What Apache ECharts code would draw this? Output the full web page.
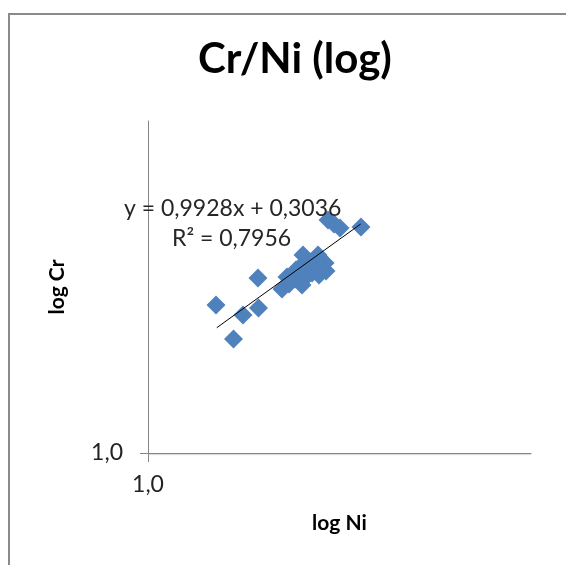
<!DOCTYPE html>
<html>
<head>
<meta charset="utf-8">
<script src="https://cdn.jsdelivr.net/npm/echarts@6/dist/echarts.min.js"></script>
<style>html,body{margin:0;padding:0;background:#fff}#c{width:566px;height:565px}</style>
</head>
<body>
<div id="c"></div>
<script>
// Ni values (x) and Cr values (y)
var niValues = [1.505, 1.672, 1.770, 1.937, 1.943, 2.238, 2.334, 2.306, 2.420, 2.524, 2.434, 2.539, 2.539, 2.649, 2.681, 2.779, 2.796, 2.899, 2.916, 2.570, 2.762, 2.951, 3.060, 3.172, 3.598];
var crValues = [5.07, 3.49, 4.54, 6.81, 4.90, 6.04, 6.38, 6.89, 6.74, 6.31, 7.44, 7.94, 8.77, 8.12, 7.20, 8.77, 7.04, 8.03, 7.36, 6.81, 7.86, 12.87, 12.31, 11.79, 11.92];
// trendline end points
var trendNi = [1.512, 3.592];
var trendCr = [3.95, 12.31];
var tickLabels = ['1,0'];
var equationText = 'y = 0,9928x + 0,3036';
var r2Text = 'R² = 0,7956';

var points = niValues.map(function (v, i) { return [v, crValues[i]]; });
var trend = trendNi.map(function (v, i) { return [v, trendCr[i]]; });

var chart = echarts.init(document.getElementById('c'), null, {renderer: 'canvas'});
var FONT = 'Lato';
chart.setOption({
  animation: false,
  backgroundColor: '#fff',
  title: {
    text: 'Cr/Ni (log)',
    left: 290,
    top: 33,
    textAlign: 'center',
    textStyle: {fontFamily: FONT, fontWeight: 'bold', fontSize: 42, color: '#000'}
  },
  grid: {left: 148, top: 121, width: 383, height: 332, containLabel: false},
  xAxis: {
    type: 'log', logBase: 10, min: 1, max: 10,
    name: 'log Ni', nameLocation: 'middle', nameGap: 60,
    nameTextStyle: {fontFamily: FONT, fontWeight: 'bold', fontSize: 21, color: '#000'},
    axisLine: {show: true, lineStyle: {color: '#868686', width: 1}},
    axisTick: {show: true, length: 9, inside: false, customValues: [1], lineStyle: {color: '#868686'}},
    axisLabel: {customValues: [1], margin: 20, fontFamily: FONT, fontSize: 23, color: '#222',
      formatter: function (v) { return tickLabels[0]; }},
    splitLine: {show: false}
  },
  yAxis: {
    type: 'log', logBase: 10, min: 1, max: 38.1,
    name: 'log Cr', nameLocation: 'middle', nameGap: 80, nameRotate: 90,
    nameTextStyle: {fontFamily: FONT, fontWeight: 'bold', fontSize: 21, color: '#000'},
    axisLine: {show: true, lineStyle: {color: '#868686', width: 1}},
    axisTick: {show: true, length: 8, customValues: [1], lineStyle: {color: '#868686'}},
    axisLabel: {customValues: [1], margin: 25, fontFamily: FONT, fontSize: 23, color: '#222',
      formatter: function (v) { return tickLabels[0]; }},
    splitLine: {show: true, lineStyle: {color: '#a8a8a8', width: 1, shadowColor: 'rgba(0,0,0,0.18)', shadowOffsetY: 1, shadowBlur: 1}}
  },
  series: [
    {
      type: 'scatter', data: points, symbol: 'diamond', symbolSize: 19,
      itemStyle: {color: '#4F81BD', opacity: 1}, z: 2
    },
    {
      type: 'line', data: trend, symbol: 'none', z: 3,
      lineStyle: {color: '#000', width: 1}
    }
  ],
  graphic: [
    {type: 'rect', shape: {x: 9, y: 14, width: 700, height: 700}, style: {fill: 'none', stroke: '#8a8a8a', lineWidth: 2}, z: 100, silent: true},
    {type: 'text', left: 124, top: 197, z: 50, style: {text: equationText, font: '23px Lato', fill: '#262626'}},
    {type: 'text', left: 172, top: 227, z: 50, style: {text: r2Text, font: '23px Lato', fill: '#262626'}}
  ]
});
</script>
</body>
</html>
